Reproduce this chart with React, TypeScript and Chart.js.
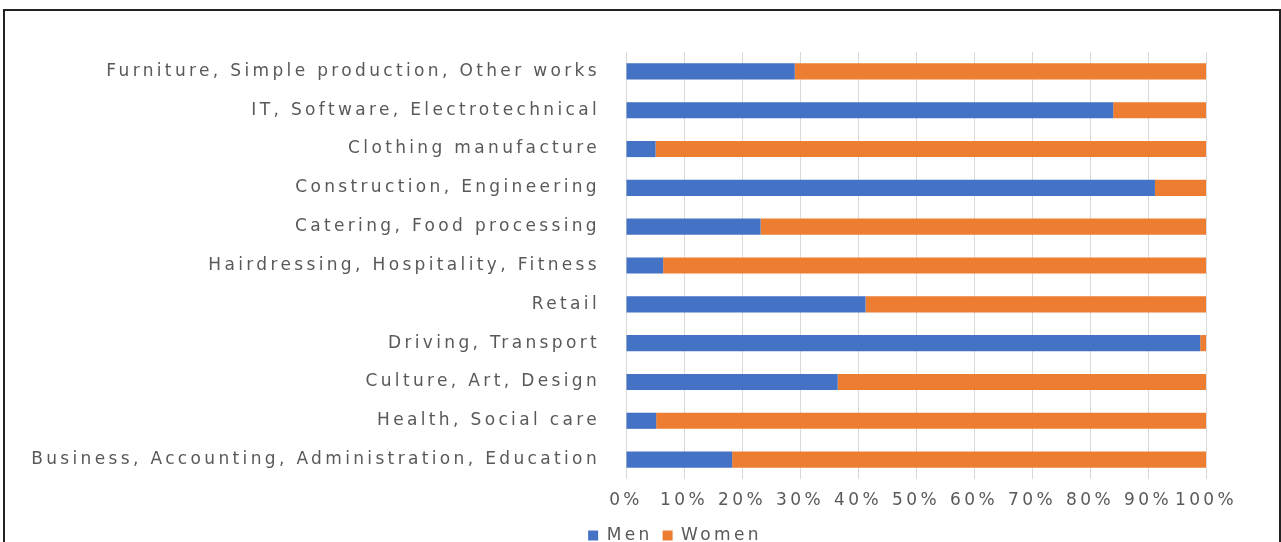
import React, { useEffect, useRef } from "react";
import { Chart, registerables } from "chart.js";

Chart.register(...registerables);

const categories = [
  "Furniture, Simple production, Other works",
  "IT, Software, Electrotechnical",
  "Clothing manufacture",
  "Construction, Engineering",
  "Catering, Food processing",
  "Hairdressing, Hospitality, Fitness",
  "Retail",
  "Driving, Transport",
  "Culture, Art, Design",
  "Health, Social care",
  "Business, Accounting, Administration, Education",
];

const menValues = [29.1, 84.0, 5.1, 91.2, 23.2, 6.4, 41.3, 99.0, 36.5, 5.2, 18.3];
const womenValues = [70.9, 16.0, 94.9, 8.8, 76.8, 93.6, 58.7, 1.0, 63.5, 94.8, 81.7];

const xTickValues = [0, 10, 20, 30, 40, 50, 60, 70, 80, 90, 100];

const TEXT = "#595959";
const FONT = { family: "'DejaVu Sans', sans-serif", size: 17 };
const SPACING = "3.35px";

const spacingPlugin = {
  id: "letterSpacing",
  beforeUpdate(chart: any) {
    chart.ctx.letterSpacing = SPACING;
  },
  afterLayout(chart: any) {
    const lg = chart.legend;
    if (lg) {
      lg.left += 62;
      lg.right += 62;
    }
  },
  beforeDraw(chart: any) {
    chart.ctx.letterSpacing = SPACING;
  },
};

export default function App() {
  const ref = useRef<HTMLCanvasElement | null>(null);

  useEffect(() => {
    if (!ref.current) return;
    const chart = new Chart(ref.current, {
      type: "bar",
      data: {
        labels: categories,
        datasets: [
          {
            label: "Men",
            data: menValues,
            backgroundColor: "#4472C4",
            barPercentage: 0.8,
            categoryPercentage: 0.52,
          },
          {
            label: "Women",
            data: womenValues,
            backgroundColor: "#ED7D31",
            barPercentage: 0.8,
            categoryPercentage: 0.52,
          },
        ],
      },
      plugins: [spacingPlugin],
      options: {
        indexAxis: "y",
        animation: false,
        responsive: false,
        maintainAspectRatio: false,
        devicePixelRatio: 1,
        layout: { padding: { top: 52, left: 20, right: 75, bottom: 0 } },
        scales: {
          x: {
            stacked: true,
            min: 0,
            max: 100,
            afterBuildTicks(scale: any) {
              scale.ticks = xTickValues.map((v) => ({ value: v }));
            },
            afterFit(scale: any) {
              scale.height = 38;
            },
            ticks: {
              color: TEXT,
              font: FONT,
              padding: 11,
              maxRotation: 0,
              autoSkip: false,
              callback: (v: any) => `${v}%`,
            },
            grid: { color: "#D9D9D9", lineWidth: 1, drawTicks: false },
            border: { display: false },
          },
          y: {
            stacked: true,
            afterFit(scale: any) {
              scale.width = 606;
            },
            ticks: { color: TEXT, font: FONT, padding: 26, autoSkip: false },
            grid: { display: false, drawTicks: false },
            border: { display: false },
          },
        },
        plugins: {
          legend: {
            position: "bottom",
            labels: {
              color: TEXT,
              font: FONT,
              boxWidth: 10,
              boxHeight: 10,
              padding: 10,
            },
          },
          tooltip: { enabled: false },
        },
      },
    });
    return () => chart.destroy();
  }, []);

  return (
    <div
      style={{
        position: "fixed",
        left: 0,
        top: 0,
        width: 1281,
        height: 542,
        overflow: "hidden",
        background: "#fff",
      }}
    >
      <canvas ref={ref} width={1281} height={554} style={{ display: "block" }} />
      <div
        style={{
          position: "absolute",
          left: 3,
          top: 9,
          width: 1278,
          height: 600,
          border: "2px solid #222",
          boxSizing: "border-box",
          pointerEvents: "none",
        }}
      />
    </div>
  );
}
